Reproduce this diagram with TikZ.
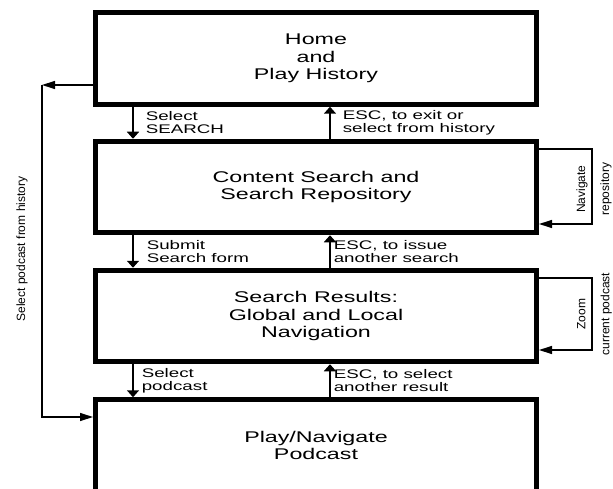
\documentclass[tikz,border=0pt]{standalone}
\usepackage{fontspec}
\setmainfont{Liberation Sans}
\newfontfamily\widefont[FakeStretch=1.5]{Liberation Sans}
\usetikzlibrary{arrows.meta}

\begin{document}
\begin{tikzpicture}[x=1pt,y=-1pt]
  \tikzset{state/.style = {shape=rectangle,draw,line width=5pt,minimum width=441pt,minimum height=91.5pt,inner sep=0pt,align=center,font=\widefont\fontsize{15.5}{17.5}\selectfont}}
  \tikzset{lbl/.style = {anchor=west,inner sep=0pt,align=left,font=\widefont\fontsize{12.5}{13}\selectfont}}
  \tikzset{side/.style = {rotate=90,inner sep=0pt,align=center,font=\fontsize{12}{24}\selectfont}}
  \tikzset{%
  tipV/.tip={Triangle[length=7pt,width=12pt]},
  tipH/.tip={Triangle[length=13pt,width=8pt]},
  }
  \tikzset{vedge/.style = {-tipV,line width=1.6pt}}
  \tikzset{hedge/.style = {-tipH,line width=1.3pt}}

  \useasboundingbox (0,0) rectangle (613,489);

	\node[state] (home) at (316,58.5) {Home\\and\\Play History};
	\node[state] (search) at (316,187) {Content Search and\\Search Repository};
	\node[state] (results) at (316,316) {Search Results:\\Global and Local\\Navigation};
	\node[state] (play) at (316,445.5) {Play/Navigate\\Podcast};

	\coordinate (dn) at (133,0);
	\coordinate (up) at (330,0);
	\coordinate (fbtop) at (42,85);
	\coordinate (fbbot) at (42,417);
	\coordinate (navtop) at (592,149);
	\coordinate (navbot) at (592,224);
	\coordinate (zoomtop) at (592,278);
	\coordinate (zoombot) at (592,350);

    \foreach \from/\to/\dx/\txt in {home/search/12/{Select\\SEARCH}, search/results/13/{Submit\\Search form}, results/play/8/{Select\\podcast}}
    \draw[vedge] (\from.south -| dn) -- node[lbl, xshift=\dx pt]{\txt} (\to.north -| dn);

    \foreach \from/\to/\dx/\txt in {search/home/12/{ESC, to exit or\\select from history}, results/search/3/{ESC, to issue\\another search}, play/results/3/{ESC, to select\\another result}}
    \draw[vedge] (\from.north -| up) -- node[lbl, xshift=\dx pt]{\txt} (\to.south -| up);

    % back to the player from the history
	\draw[hedge] (fbtop -| home.west) -- (fbtop);
	\draw[hedge] (fbtop) -- (fbbot) -- (fbbot -| play.west);
	\node[side] (hist) at (22,249) {Select podcast from history};

    % loops on the right
	\draw[hedge] (navtop -| search.east) -- (navtop) -- (navbot) -- (navbot -| search.east);
	\node[side] (navlbl) at (594,189) {Navigate\\repository};
	\draw[hedge] (zoomtop -| results.east) -- (zoomtop) -- (zoombot) -- (zoombot -| results.east);
	\node[side] (zoomlbl) at (594.5,314) {Zoom\\current podcast};

\end{tikzpicture}
\end{document}
